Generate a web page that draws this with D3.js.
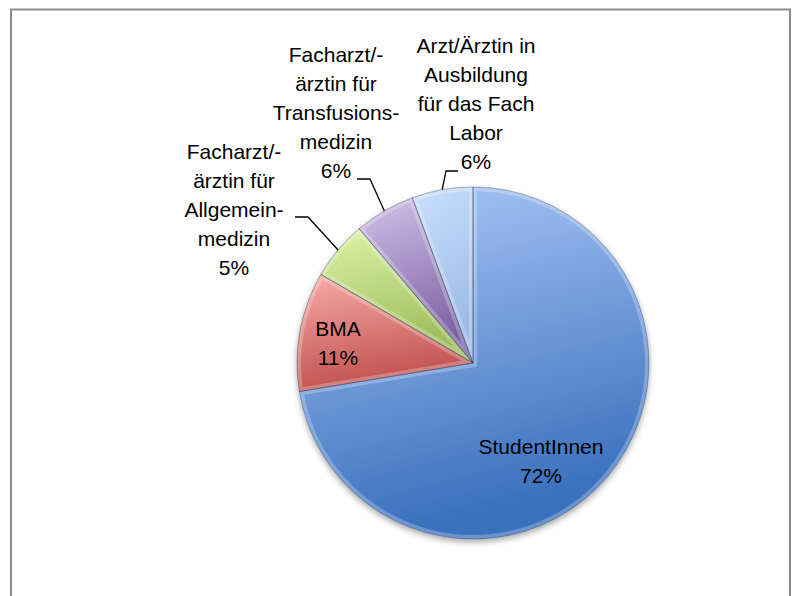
<!DOCTYPE html>
<html>
<head>
<meta charset="utf-8">
<script src="https://cdn.jsdelivr.net/npm/d3@7"></script>
<style>
  body { margin: 0; background: #fff; }
  svg text { font-family: "Liberation Sans", Arial, sans-serif; font-size: 21px; fill: #000; }
</style>
</head>
<body>
<div id="chart"></div>
<script>
var w = 795;
var h = 596;

// data (slice shares in percent, clockwise from 12 o'clock)
var categories = ["StudentInnen", "BMA", "Facharzt/-ärztin für Allgemeinmedizin",
                  "Facharzt/-ärztin für Transfusionsmedizin", "Arzt/Ärztin in Ausbildung für das Fach Labor"];
var shares = [72.4, 11.0, 5.4, 5.6, 5.6];
var labelLines = [
    ["StudentInnen"],
    ["BMA"],
    ["Facharzt/-", "ärztin für", "Allgemein-", "medizin"],
    ["Facharzt/-", "ärztin für", "Transfusions-", "medizin"],
    ["Arzt/Ärztin in", "Ausbildung", "für das Fach", "Labor"]
];

// colours: light (top) and dark (bottom) stop of each slice
var lightColors = ["#acc9f8", "#f7aca8", "#ddf4a8", "#d3c2ea", "#cae0fc"];
var darkColors  = ["#3a70bd", "#c0504d", "#9bbb59", "#7a5fa0", "#9ab9e5"];

// label layout: x centre, first baseline, and optional leader elbow
var labelLayout = [
    {x: 541, y: 454},
    {x: 338, y: 336},
    {x: 234, y: 159, elbow: [308, 217], end: [295, 217]},
    {x: 336, y: 62,  elbow: [370, 179], end: [357, 179]},
    {x: 476, y: 53,  elbow: [446, 171], end: [458, 171]}
];

var cx = 473, cy = 363, r = 176;
var lineStep = 29;

var svg = d3.select("#chart")
    .append("svg")
    .attr("width", w)
    .attr("height", h);

// chart frame
svg.append("rect")
    .attr("x", 11)
    .attr("y", 9.5)
    .attr("width", 779)
    .attr("height", 620)
    .attr("fill", "none")
    .attr("stroke", "#8c8c8c")
    .attr("stroke-width", 2);

var defs = svg.append("defs");

var pie = d3.pie().sort(null).value(function(d){ return d; });
var arcs = pie(shares);

var arc = d3.arc().innerRadius(0).outerRadius(r);

// gradients per slice
arcs.forEach(function(a, i){
    var g = defs.append("linearGradient")
        .attr("id", "grad" + i)
        .attr("x1", 0).attr("y1", 0)
        .attr("x2", 0.25).attr("y2", 1);
    g.append("stop").attr("offset", "0%").attr("stop-color", lightColors[i]);
    g.append("stop").attr("offset", "100%").attr("stop-color", darkColors[i]);

    defs.append("clipPath")
        .attr("id", "clip" + i)
        .append("path")
        .attr("d", arc(a));
});

// soft shadow
var shadow = defs.append("filter").attr("id", "shadow")
    .attr("x", "-10%").attr("y", "-10%").attr("width", "120%").attr("height", "120%");
shadow.append("feGaussianBlur").attr("in", "SourceAlpha").attr("stdDeviation", 3);
shadow.append("feOffset").attr("dx", 0).attr("dy", 3).attr("result", "b");
shadow.append("feComponentTransfer").append("feFuncA").attr("type", "linear").attr("slope", 0.35);
var merge = shadow.append("feMerge");
merge.append("feMergeNode");
merge.append("feMergeNode").attr("in", "SourceGraphic");

var g = svg.append("g")
    .attr("transform", "translate(" + cx + "," + cy + ")");

var slices = g.append("g").attr("filter", "url(#shadow)");

slices.selectAll("path.slice")
    .data(arcs)
    .enter()
    .append("path")
    .attr("class", "slice")
    .attr("d", arc)
    .attr("fill", function(d, i){ return "url(#grad" + i + ")"; });

// bevel: light inner rim, darker edge
slices.selectAll("path.bevel")
    .data(arcs)
    .enter()
    .append("path")
    .attr("class", "bevel")
    .attr("d", arc)
    .attr("clip-path", function(d, i){ return "url(#clip" + i + ")"; })
    .attr("fill", "none")
    .attr("stroke", "#ffffff")
    .attr("stroke-opacity", 0.25)
    .attr("stroke-width", 8);

slices.selectAll("path.edge")
    .data(arcs)
    .enter()
    .append("path")
    .attr("class", "edge")
    .attr("d", arc)
    .attr("fill", "none")
    .attr("stroke", "#1f3050")
    .attr("stroke-opacity", 0.35)
    .attr("stroke-width", 1);

// leader lines
var outer = d3.arc().innerRadius(r).outerRadius(r);
arcs.forEach(function(a, i){
    var lay = labelLayout[i];
    if (!lay.elbow) return;
    var p = outer.centroid(a);
    var pts = [[cx + p[0], cy + p[1]], lay.elbow, lay.end];
    svg.append("path")
        .attr("d", d3.line()(pts))
        .attr("fill", "none")
        .attr("stroke", "#000")
        .attr("stroke-width", 1.3);
});

// labels
arcs.forEach(function(a, i){
    var lay = labelLayout[i];
    var lines = labelLines[i].concat([Math.round(shares[i]) + "%"]);
    var t = svg.append("text")
        .attr("text-anchor", "middle");
    lines.forEach(function(s, k){
        t.append("tspan")
            .attr("x", lay.x)
            .attr("y", lay.y + k * lineStep)
            .text(s);
    });
});
</script>
</body>
</html>
